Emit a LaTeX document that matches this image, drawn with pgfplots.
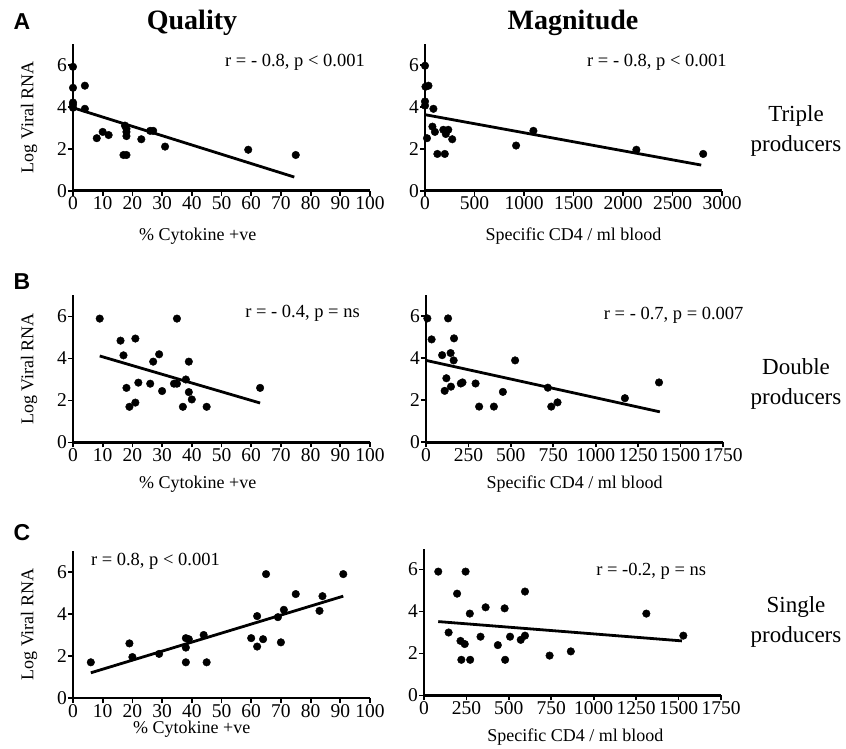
\documentclass[border=0pt]{standalone}
\usepackage{fontspec}
\setmainfont{Liberation Serif}
\setsansfont{Liberation Sans}
\usepackage{pgfplots}
\pgfplotsset{compat=1.18}

\pgfplotsset{
  panel/.style={
    width=297pt, height=147pt, scale only axis,
    anchor=south west,
    axis lines=left,
    axis line style={-, line width=2.5pt},
    ymin=0, ymax=7, ytick={0,2,4,6},
    xmin=0,
    tick align=outside,
    major tick length=5pt,
    tick style={black, line width=1.8pt},
    tick label style={font=\fontsize{19.5}{19.5}\selectfont, inner sep=1pt},
    label style={font=\fontsize{18}{18}\selectfont},
    /pgf/number format/assume math mode=true,
    /pgf/number format/1000 sep={},
    scaled x ticks=false,
    clip=false,
  },
  quality/.style={panel, xmax=100, xtick distance=10,
    ylabel={Log Viral RNA},
    ylabel style={at={(axis description cs:-0.148,0.5)}, anchor=center},
    xlabel={\% Cytokine +ve}},
  magnitude/.style={panel,
    xlabel={Specific CD4 / ml blood}},
  dots/.style={only marks, mark=*, mark size=3.8pt, black},
  fit/.style={no marks, black, line width=2.8pt},
}
\tikzset{note/.style={font=\fontsize{18.5}{18.5}\selectfont, inner sep=0pt}}

\begin{document}
\begin{tikzpicture}
\useasboundingbox (0pt,0pt) rectangle (846pt,749pt);

% column titles and panel letters
\node[font=\fontsize{28}{28}\selectfont\bfseries] at (192pt,726pt) {Quality};
\node[font=\fontsize{28}{28}\selectfont\bfseries] at (573pt,726pt) {Magnitude};
\node[font=\fontsize{23}{23}\selectfont\sffamily\bfseries] at (22pt,727pt) {A};
\node[font=\fontsize{23}{23}\selectfont\sffamily\bfseries] at (22pt,467pt) {B};
\node[font=\fontsize{23}{23}\selectfont\sffamily\bfseries] at (22pt,216pt) {C};

% row labels
\node[align=center, font=\fontsize{23}{30}\selectfont] at (796pt,618pt) {Triple\\producers};
\node[align=center, font=\fontsize{23}{30}\selectfont] at (796pt,365pt) {Double\\producers};
\node[align=center, font=\fontsize{23}{30}\selectfont] at (796pt,127pt) {Single\\producers};

% ---- A: triple producers ----
\begin{axis}[quality, at={(73pt,558.3pt)},
  xlabel style={at={(axis description cs:0.42,-0.308)}, anchor=center}]
\addplot[dots] coordinates {
  (0,5.9) (0,4.9) (0,4.2) (0,4.1) (0,3.95) (4,5.0) (4,3.9) (8,2.5) (10,2.8)
  (12,2.65) (17.5,3.1) (18,2.95) (18,2.8) (18,2.6) (17,1.7) (18,1.7) (23,2.45)
  (26,2.85) (27,2.85) (31,2.1) (59,1.95) (75,1.7)
};
\addplot[fit] coordinates {(0,3.95) (74.5,0.65)};
\node[note, anchor=east] at (axis cs:98.3,6.1) {r = - 0.8, p < 0.001};
\end{axis}

\begin{axis}[magnitude, at={(425pt,558.3pt)}, xmax=3000, xtick distance=500,
  xlabel style={at={(axis description cs:0.5,-0.308)}, anchor=center}]
\addplot[dots] coordinates {
  (0,5.95) (5,4.95) (35,5.0) (0,4.25) (0,4.05) (85,3.9) (20,2.5) (75,3.05)
  (100,2.8) (185,2.9) (235,2.9) (210,2.7) (275,2.45) (125,1.75) (200,1.75)
  (920,2.15) (1095,2.85) (2135,1.95) (2810,1.75)
};
\addplot[fit] coordinates {(0,3.62) (2790,1.22)};
\node[note, anchor=east] at (axis cs:3050,6.1) {r = - 0.8, p < 0.001};
\end{axis}

% ---- B: double producers ----
\begin{axis}[quality, at={(73pt,306.5pt)},
  xlabel style={at={(axis description cs:0.42,-0.282)}, anchor=center}]
\addplot[dots] coordinates {
  (9,5.9) (35,5.9) (16,4.85) (21,4.95) (17,4.15) (29,4.2) (27,3.85) (39,3.85)
  (18,2.6) (22,2.85) (26,2.8) (30,2.45) (34,2.8) (35,2.8) (38,3.0) (39,2.4)
  (40,2.05) (19,1.7) (21,1.9) (37,1.7) (45,1.7) (63,2.6)
};
\addplot[fit] coordinates {(9,4.12) (63,1.88)};
\node[note, anchor=east] at (axis cs:96.6,6.15) {r = - 0.4, p = ns};
\end{axis}

\begin{axis}[magnitude, at={(426pt,306.7pt)}, xmax=1750, xtick distance=250,
  xlabel style={at={(axis description cs:0.5,-0.282)}, anchor=center}]
\addplot[dots] coordinates {
  (8,5.9) (33,4.9) (130,5.9) (165,4.95) (95,4.15) (145,4.25) (163,3.9)
  (120,3.05) (110,2.45) (147,2.65) (205,2.8) (215,2.85) (292,2.8) (313,1.7)
  (400,1.7) (453,2.4) (525,3.9) (718,2.6) (738,1.7) (775,1.9) (1172,2.1)
  (1373,2.85)
};
\addplot[fit] coordinates {(0,3.9) (1378,1.45)};
\node[note, anchor=east] at (axis cs:1872,6.06) {r = - 0.7, p = 0.007};
\end{axis}

% ---- C: single producers ----
\begin{axis}[quality, at={(73pt,51pt)},
  xlabel style={at={(axis description cs:0.40,-0.215)}, anchor=center}]
\addplot[dots] coordinates {
  (6,1.7) (19,2.6) (20,1.95) (29,2.1) (38,2.85) (39,2.8) (38,2.4) (38,1.7)
  (44,3.0) (45,1.7) (60,2.85) (62,2.45) (62,3.9) (64,2.8) (65,5.9) (70,2.65)
  (69,3.85) (71,4.2) (75,4.95) (83,4.15) (84,4.85) (91,5.9)
};
\addplot[fit] coordinates {(6,1.2) (91,4.85)};
\node[note, anchor=west] at (axis cs:6,6.5) {r = 0.8, p < 0.001};
\end{axis}

\begin{axis}[magnitude, at={(424pt,53.5pt)}, xmax=1750, xtick distance=250,
  xlabel style={at={(axis description cs:0.51,-0.281)}, anchor=center}]
\addplot[dots] coordinates {
  (84,5.9) (245,5.9) (195,4.85) (595,4.95) (270,3.9) (363,4.2) (475,4.15)
  (1310,3.9) (145,3.0) (215,2.6) (240,2.45) (333,2.8) (435,2.4) (507,2.8)
  (570,2.65) (595,2.85) (220,1.7) (272,1.7) (478,1.7) (740,1.9) (865,2.1)
  (1528,2.85)
};
\addplot[fit] coordinates {(84,3.52) (1520,2.6)};
\node[note, anchor=east] at (axis cs:1663,5.9) {r = -0.2, p = ns};
\end{axis}
\end{tikzpicture}
\end{document}
